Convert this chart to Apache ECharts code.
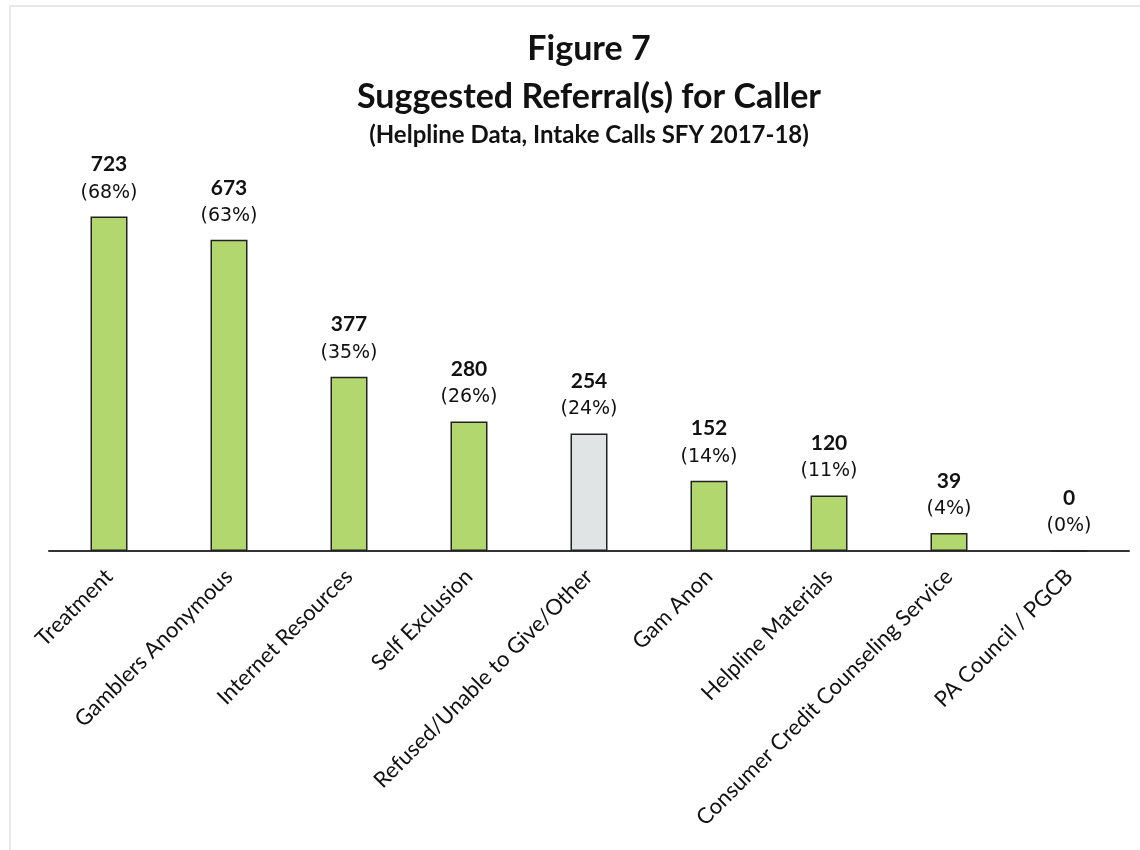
<!DOCTYPE html>
<html>
<head>
<meta charset="utf-8">
<script src="https://cdn.jsdelivr.net/npm/echarts@6/dist/echarts.min.js"></script>
<style>
  html, body { margin: 0; padding: 0; background: #fff; }
  #chart { width: 1140px; height: 850px; }
</style>
</head>
<body>
<div id="chart"></div>
<script>
// data
const categories = [
  'Treatment', 'Gamblers Anonymous', 'Internet Resources', 'Self Exclusion',
  'Refused/Unable to Give/Other', 'Gam Anon', 'Helpline Materials',
  'Consumer Credit Counseling Service', 'PA Council / PGCB'
]
const counts = [723, 673, 377, 280, 254, 152, 120, 39, 0]
const percents = [68, 63, 35, 26, 24, 14, 11, 4, 0]
const greyIndex = 4

const green = '#b3d76f'
const grey = '#e1e4e4'

const chart = echarts.init(document.getElementById('chart'))

const option = {
  animation: false,
  textStyle: { fontFamily: 'Lato' },
  title: [
    {
      text: 'Figure 7',
      left: 584, top: 27, textAlign: 'center',
      textStyle: { fontFamily: 'Lato', fontSize: 34, fontWeight: 'bold', color: '#111' }
    },
    {
      text: 'Suggested Referral(s) for Caller',
      left: 584, top: 75, textAlign: 'center',
      textStyle: { fontFamily: 'Lato', fontSize: 34, fontWeight: 'bold', color: '#111' }
    },
    {
      text: '(Helpline Data, Intake Calls SFY 2017-18)',
      left: 584, top: 118, textAlign: 'center',
      textStyle: { fontFamily: 'Lato', fontSize: 24, fontWeight: 'bold', color: '#111' }
    }
  ],
  graphic: [
    {
      type: 'polyline',
      shape: { points: [[10, 850], [10, 6], [1140, 6]] },
      style: { stroke: '#e8e8e8', lineWidth: 2, fill: null }
    }
  ],
  grid: { left: 49, right: 11, top: 181, bottom: 299 },
  xAxis: {
    type: 'category',
    data: categories,
    axisLine: { lineStyle: { color: '#333', width: 2 } },
    axisTick: { show: false },
    axisLabel: {
      rotate: 45,
      interval: 0,
      margin: 22,
      fontFamily: 'Lato',
      fontSize: 22,
      color: '#111'
    }
  },
  yAxis: {
    type: 'value',
    min: 0,
    max: 800,
    show: false,
    splitLine: { show: false }
  },
  series: [
    {
      type: 'bar',
      barWidth: 37,
      data: counts.map((v, i) => ({
        value: v,
        itemStyle: { color: i === greyIndex ? grey : green }
      })),
      itemStyle: { borderColor: '#222', borderWidth: 1.5 },
      label: {
        show: true,
        position: 'top',
        distance: 10,
        formatter: (p) => '{v|' + p.value + '}\n{p|(' + percents[p.dataIndex] + '%)}',
        rich: {
          v: { fontFamily: 'Lato', fontSize: 21, fontWeight: 'bold', color: '#111', lineHeight: 28 },
          p: { fontFamily: 'DejaVu Sans', fontSize: 19, color: '#111', lineHeight: 28 }
        }
      }
    }
  ]
}

chart.setOption(option)
</script>
</body>
</html>
